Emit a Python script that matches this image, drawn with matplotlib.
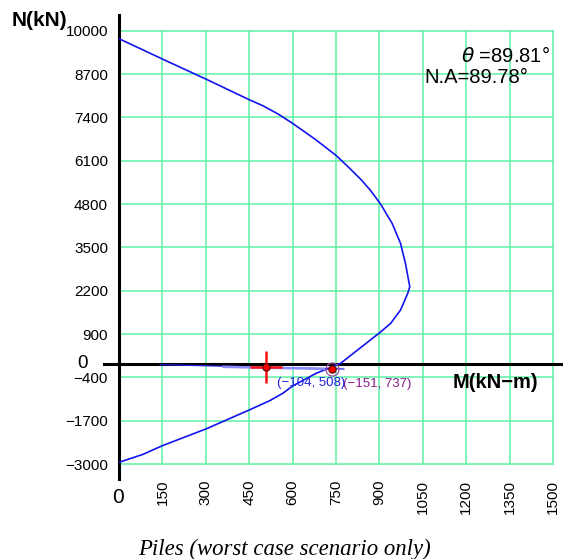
import matplotlib
matplotlib.use("Agg")
import matplotlib.pyplot as plt

plt.rcParams["font.family"] = ["Liberation Sans", "DejaVu Sans"]

# Interaction diagram (M in kN-m, N in kN)
curve_m = [0, 150, 300, 450, 497, 550, 600, 680, 750, 795, 838, 870, 904, 944,
           973, 990, 1005, 998, 973, 939, 904, 765, 738, 681, 600, 566, 521,
           450, 300, 150, 83, 0]
curve_n = [9760, 9150, 8550, 7930, 7750, 7500, 7220, 6730, 6260, 5890, 5520,
           5200, 4800, 4220, 3620, 3020, 2320, 2120, 1620, 1220, 960, 15, -80,
           -280, -660, -880, -1100, -1380, -1950, -2450, -2710, -2950]

# Load path lines near the M axis
path_m = [142, 777]
path_n = [-20, -150]
path2_m = [361, 708]
path2_n = [-85, -145]

# Load points (N, M)
pt1_n, pt1_m = -104, 508
pt2_n, pt2_m = -151, 737

x_ticks = [150, 300, 450, 600, 750, 900, 1050, 1200, 1350, 1500]
y_ticks = [-3000, -1700, -400, 900, 2200, 3500, 4800, 6100, 7400, 8700, 10000]

theta_text = r"$\theta$ =89.81°"
na_text = "N.A=89.78°"
caption = "Piles (worst case scenario only)"

W, H = 563, 559
fig = plt.figure(figsize=(W / 100, H / 100), dpi=100)
ax = fig.add_axes([119 / W, (H - 464) / H, 434 / W, (464 - 30.7) / H])
ax.set_xlim(0, 1500)
ax.set_ylim(-3000, 10000)
for s in ax.spines.values():
    s.set_visible(False)

grid_color = "#5ef2a6"
ax.set_xticks(x_ticks)
ax.set_xticklabels([str(v) for v in x_ticks], rotation=90, fontsize=11)
ax.set_yticks(y_ticks)
ax.set_yticklabels([str(v).replace("-", "\u2212") for v in y_ticks], fontsize=11)
ax.tick_params(axis="x", length=0, pad=11.5)
ax.tick_params(axis="y", length=0, pad=7.9)
for lbl in ax.get_xticklabels():
    lbl.set_va("top")
ax.grid(True, color=grid_color, linewidth=1.1)
for gl in ax.get_xgridlines() + ax.get_ygridlines():
    gl.set_clip_on(False)
ax.set_axisbelow(True)

# Axis lines through the origin
ax.plot([0, 0], [-3450, 10470], color="black", lw=2.2, clip_on=False, zorder=3)
ax.plot([-52, 1540], [0, 0], color="black", lw=2.2, clip_on=False, zorder=3)

# Interaction curve
ax.plot(curve_m, curve_n, color="#1414f0", lw=1.2, zorder=4)

# Load path
ax.plot(path_m, path_n, color="#2020e0", lw=0.9, zorder=4)
ax.plot(path2_m, path2_n, color="#8c8cff", lw=1.8, zorder=4)

# Load point markers
ax.plot([pt1_m], [pt1_n], marker="+", ms=23, mew=1.8, color="#ff1010",
        zorder=5, clip_on=False)
ax.plot([pt2_m], [pt2_n], marker="o", ms=9.4, mfc="none", mec="#a04aa0",
        mew=0.9, zorder=5)
for m, n in [(pt1_m, pt1_n), (pt2_m, pt2_n)]:
    ax.plot([m], [n], marker="o", ms=5.2, mfc="#ff0000", mec="#600000",
            mew=0.9, zorder=6)

# Point labels
ax.annotate(f"({pt2_n}, {pt2_m})".replace("-", "\u2212"), xy=(pt2_m, pt2_n),
            xytext=(7.9, -11), textcoords="offset points", ha="left",
            va="center", fontsize=9.5, color="#8a1a8a", zorder=7)
ax.annotate(f"({pt1_n}, {pt1_m})".replace("-", "\u2212"), xy=(pt1_m, pt1_n),
            xytext=(7.9, -11), textcoords="offset points", ha="left",
            va="center", fontsize=9.5, color="#2020e0", zorder=8)

# Zero labels
ax.annotate("0", xy=(0, 0), xytext=(-26.6, 0.5), textcoords="offset points",
            ha="center", va="center", fontsize=13.5, annotation_clip=False)
ax.annotate("0", xy=(0, -3000), xytext=(-0.7, -24.1), textcoords="offset points",
            ha="center", va="center", fontsize=15, annotation_clip=False)

# Axis titles
fig.text(12 / W, 1 - 21 / H, "N(kN)", fontsize=15, fontweight="bold",
         ha="left", va="center")
fig.text(453 / W, 1 - 383 / H, "M(kN\u2212m)", fontsize=14.5, fontweight="bold",
         ha="left", va="center")

# Angle info
fig.text(550 / W, 1 - 56 / H, theta_text, fontsize=14.5, ha="right", va="center")
fig.text(528 / W, 1 - 77.5 / H, na_text, fontsize=14.5, ha="right", va="center")

# Caption
fig.text(285 / W, (H - 555) / H, caption, fontsize=16.4, ha="center",
         va="baseline", family="Liberation Serif", style="italic")

fig.savefig("out.png", dpi=100, facecolor="white")
